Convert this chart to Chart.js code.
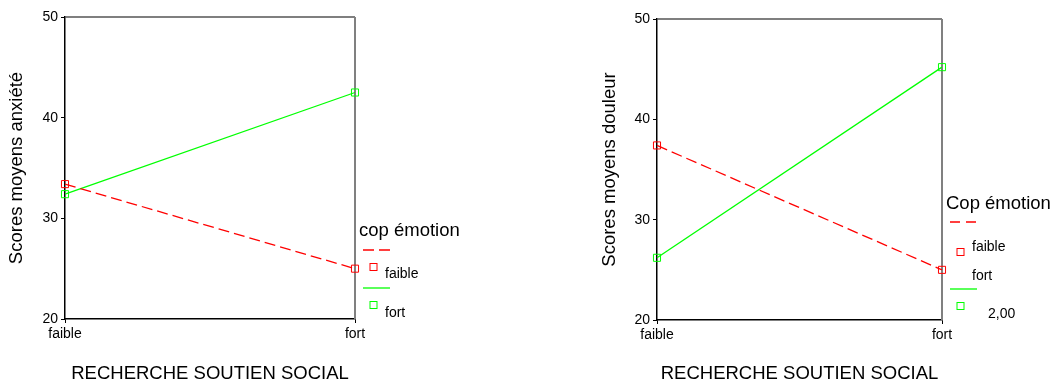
<!DOCTYPE html>
<html lang="fr">
<head>
<meta charset="UTF-8">
<title>Scores moyens</title>
<script src="https://cdn.jsdelivr.net/npm/chart.js"></script>
<style>
    html, body { margin: 0; padding: 0; background: #fff; }
    .wrap { position: relative; width: 1052px; height: 385px; }
    .box { position: absolute; top: 0; width: 526px; height: 385px; }
    #left { left: 0; }
    #right { left: 526px; }
</style>
</head>
<body>
<div class="wrap">
    <div class="box" id="left"><canvas id="anxChart" width="526" height="385"></canvas></div>
    <div class="box" id="right"><canvas id="douChart" width="526" height="385"></canvas></div>
</div>
<script>
    // data
    const categories = ['faible', 'fort'];
    const anxieteFaible = [33.4, 25.0];
    const anxieteFort = [32.4, 42.5];
    const douleurFaible = [37.4, 25.0];
    const douleurFort = [26.2, 45.2];
    const yMin = 20, yMax = 50, yStep = 10;

    const FONT = '"Liberation Sans", Arial, sans-serif';
    const RED = '#ff0000';
    const GREEN = '#00ff00';

    // the box round the plot (top + right side are grey)
    const framePlugin = {
        id: 'frame',
        beforeDatasetsDraw(chart) {
            const { ctx, chartArea: a } = chart;
            ctx.save();
            ctx.strokeStyle = '#555';
            ctx.lineWidth = 1.5;
            ctx.beginPath();
            ctx.moveTo(a.left, a.top);
            ctx.lineTo(a.right, a.top);
            ctx.stroke();
            ctx.strokeStyle = '#808080';
            ctx.lineWidth = 2;
            ctx.beginPath();
            ctx.moveTo(a.right, a.top);
            ctx.lineTo(a.right, a.bottom);
            ctx.stroke();
            ctx.restore();
        }
    };

    // SPSS style legend, line sample above, marker below
    const legendPlugin = {
        id: 'spssLegend',
        afterDraw(chart, args, opts) {
            if (!opts || !opts.title) return;
            const { ctx, chartArea: a } = chart;
            ctx.save();
            ctx.fillStyle = '#000';
            ctx.textBaseline = 'alphabetic';
            ctx.textAlign = 'left';
            ctx.font = '18.5px ' + FONT;
            ctx.fillText(opts.title, a.right + 4, a.bottom + opts.titleY);
            ctx.font = '14px ' + FONT;
            opts.items.forEach(it => {
                const y = a.bottom + it.y;
                if (it.type === 'line') {
                    ctx.strokeStyle = it.color;
                    ctx.lineWidth = 1.3;
                    ctx.setLineDash(it.dash || []);
                    ctx.beginPath();
                    ctx.moveTo(a.right + 8, y);
                    ctx.lineTo(a.right + 35, y);
                    ctx.stroke();
                    ctx.setLineDash([]);
                } else if (it.type === 'square') {
                    ctx.strokeStyle = it.color;
                    ctx.lineWidth = 1;
                    ctx.strokeRect(a.right + 15, y - 3.5, 7, 7);
                } else {
                    ctx.fillStyle = '#000';
                    ctx.fillText(it.text, a.right + it.x, y);
                }
            });
            ctx.restore();
        }
    };

    function makeChart(canvasId, faibleVals, fortVals, yTitle, legend, geo) {
        const ctx = document.getElementById(canvasId).getContext('2d');
        return new Chart(ctx, {
            type: 'line',
            data: {
                labels: categories,
                datasets: [{
                    label: 'faible',
                    data: faibleVals,
                    borderColor: RED,
                    borderWidth: 1.3,
                    borderDash: [11, 5],
                    pointStyle: 'rect',
                    pointRadius: 5,
                    pointBorderWidth: 1,
                    pointBorderColor: RED,
                    pointBackgroundColor: 'rgba(0,0,0,0)',
                    tension: 0,
                    clip: false
                }, {
                    label: 'fort',
                    data: fortVals,
                    borderColor: GREEN,
                    borderWidth: 1.3,
                    pointStyle: 'rect',
                    pointRadius: 5,
                    pointBorderWidth: 1,
                    pointBorderColor: GREEN,
                    pointBackgroundColor: 'rgba(0,0,0,0)',
                    tension: 0,
                    clip: false
                }]
            },
            options: {
                responsive: false,
                animation: false,
                events: [],
                layout: { padding: geo.padding },
                plugins: {
                    legend: { display: false },
                    tooltip: { enabled: false },
                    spssLegend: legend
                },
                scales: {
                    x: {
                        type: 'category',
                        offset: false,
                        afterFit: s => { s.height = geo.xHeight; },
                        border: { display: true, color: '#000', width: 1.5 },
                        grid: { drawOnChartArea: false, color: '#000', tickLength: 4 },
                        ticks: { color: '#000', font: { family: FONT, size: 14 }, padding: 3, maxRotation: 0 },
                        title: {
                            display: true,
                            text: 'RECHERCHE SOUTIEN SOCIAL',
                            color: '#000',
                            font: { family: FONT, size: 18.5 },
                            padding: { top: 0, bottom: 0 }
                        }
                    },
                    y: {
                        min: yMin,
                        max: yMax,
                        afterFit: s => { s.width = geo.yWidth; },
                        border: { display: true, color: '#000', width: 1.5 },
                        grid: { drawOnChartArea: false, color: '#000', tickLength: 4 },
                        ticks: { stepSize: yStep, color: '#000', font: { family: FONT, size: 14 }, padding: 3 },
                        title: {
                            display: true,
                            text: yTitle,
                            color: '#000',
                            font: { family: FONT, size: 18.5 },
                            padding: { top: 0, bottom: 0 }
                        }
                    }
                }
            },
            plugins: [framePlugin, legendPlugin]
        });
    }

    makeChart('anxChart', anxieteFaible, anxieteFort, 'Scores moyens anxiété', {
        title: 'cop émotion',
        titleY: -83,
        items: [
            { type: 'line', color: RED, dash: [11, 5], y: -69 },
            { type: 'square', color: RED, y: -52 },
            { type: 'text', text: 'faible', x: 30, y: -41 },
            { type: 'line', color: GREEN, y: -31 },
            { type: 'square', color: GREEN, y: -14 },
            { type: 'text', text: 'fort', x: 30, y: -2 }
        ]
    }, { padding: { left: 6, top: 17, right: 171, bottom: 0 }, xHeight: 66, yWidth: 59 });

    makeChart('douChart', douleurFaible, douleurFort, 'Scores moyens douleur', {
        title: 'Cop émotion',
        titleY: -111.5,
        items: [
            { type: 'line', color: RED, dash: [10, 6], y: -98 },
            { type: 'text', text: 'faible', x: 30, y: -69.5 },
            { type: 'square', color: RED, y: -68 },
            { type: 'text', text: 'fort', x: 30, y: -40.5 },
            { type: 'line', color: GREEN, y: -31 },
            { type: 'square', color: GREEN, y: -14 },
            { type: 'text', text: '2,00', x: 46, y: -2.5 }
        ]
    }, { padding: { left: 73, top: 19, right: 110, bottom: 0 }, xHeight: 65, yWidth: 58 });
</script>
</body>
</html>
